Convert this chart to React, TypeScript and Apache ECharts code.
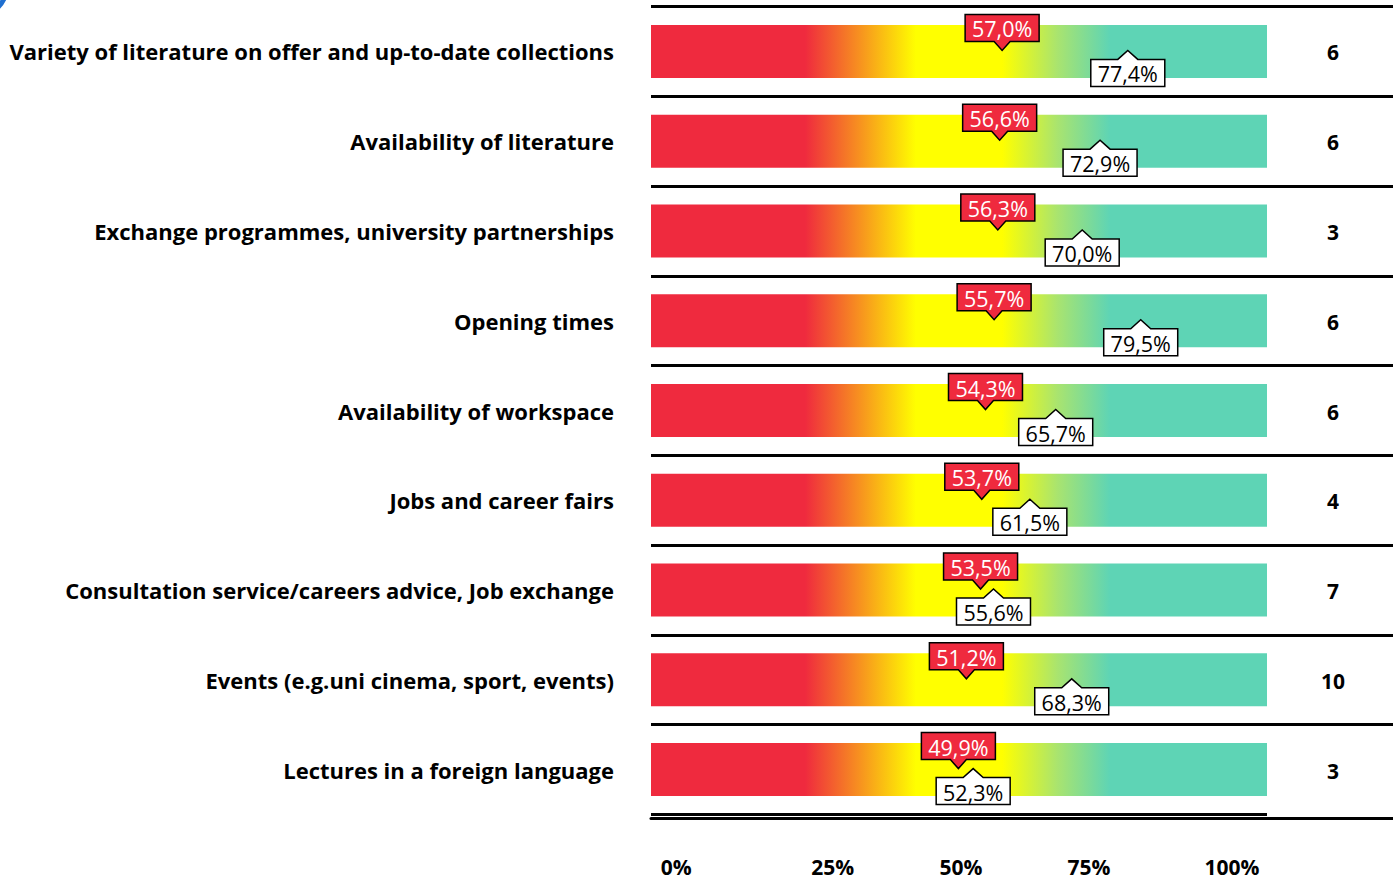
import React, { useEffect, useRef } from "react";
import * as echarts from "echarts";

const categories = [
  "Variety of literature on offer and up-to-date collections",
  "Availability of literature",
  "Exchange programmes, university partnerships",
  "Opening times",
  "Availability of workspace",
  "Jobs and career fairs",
  "Consultation service/careers advice, Job exchange",
  "Events (e.g.uni cinema, sport, events)",
  "Lectures in a foreign language",
];
const redValues = [57.0, 56.6, 56.3, 55.7, 54.3, 53.7, 53.5, 51.2, 49.9];
const whiteValues = [77.4, 72.9, 70.0, 79.5, 65.7, 61.5, 55.6, 68.3, 52.3];
const counts = [6, 6, 3, 6, 6, 4, 7, 10, 3];
const tickLabels = ["0%", "25%", "50%", "75%", "100%"];
const tickLabelPositions = [4.1, 29.5, 50.3, 71.1, 94.3];
const barFull = categories.map(() => 100);

const FONT = "'Open Sans', sans-serif";
const fmt = (v: number) => v.toFixed(1).replace(".", ",") + "%";

export default function App() {
  const ref = useRef<HTMLDivElement>(null);
  useEffect(() => {
    if (!ref.current) return;
    const chart = echarts.init(ref.current, null, { renderer: "svg" });
    const gradient = new echarts.graphic.LinearGradient(0, 0, 1, 0, [
      { offset: 0, color: "#EF2A3E" },
      { offset: 0.25, color: "#EF2A3E" },
      { offset: 0.34, color: "#F7931F" },
      { offset: 0.43, color: "#FFFF00" },
      { offset: 0.57, color: "#FFFF00" },
      { offset: 0.66, color: "#A9E46F" },
      { offset: 0.745, color: "#5ED4B5" },
      { offset: 1, color: "#5ED4B5" },
    ]);
    const callout = (isRed: boolean) => (params: any, api: any) => {
      const v = api.value(0);
      const c = api.value(1);
      const [x, yc] = api.coord([v, c]);
      const y = yc - 1;
      const w = 74, h = 27, gap = 9, pw = isRed ? 8 : 10;
      let pts: number[][];
      let top: number, bot: number;
      if (isRed) {
        bot = y - gap; top = bot - h;
        pts = [[x - w / 2, top], [x + w / 2, top], [x + w / 2, bot], [x + pw, bot], [x, y], [x - pw, bot], [x - w / 2, bot]];
      } else {
        top = y + gap; bot = top + h;
        pts = [[x - w / 2, top], [x - pw, top], [x, y], [x + pw, top], [x + w / 2, top], [x + w / 2, bot], [x - w / 2, bot]];
      }
      return {
        type: "group",
        children: [
          { type: "polygon", shape: { points: pts }, style: { fill: isRed ? "#EF2A3E" : "#FFFFFF", stroke: "#000", lineWidth: 1.5 } },
          {
            type: "text", x, y: (top + bot) / 2 + 1,
            style: { text: fmt(v), fill: isRed ? "#FFFFFF" : "#000", fontSize: 21.5, fontFamily: FONT, align: "center", verticalAlign: "middle" },
          },
        ],
      };
    };
    const splitColors = categories.map(() => "#000");
    chart.setOption({
      animation: false,
      graphic: [
        { type: "arc", shape: { cx: -25, cy: -15, r: 32, startAngle: 0, endAngle: Math.PI / 2 }, style: { stroke: "#1F6FD0", lineWidth: 5, fill: "none" } },
      ],
      grid: [
        { left: 651, width: 616, top: 6.5, height: 808 },
        { left: 1267, right: 0, top: 6.5, height: 808 },
      ],
      xAxis: [
        {
          gridIndex: 0, type: "value", min: 0, max: 100, offset: 4,
          axisLine: { show: true, onZero: false, lineStyle: { color: "#000", width: 3 } },
          axisTick: { show: false }, splitLine: { show: false },
          axisLabel: {
            customValues: tickLabelPositions,
            formatter: (v: number) => {
              const i = tickLabelPositions.findIndex((p) => Math.abs(p - v) < 1e-6);
              return i >= 0 ? tickLabels[i] : "";
            },
            margin: 38, fontSize: 21, fontWeight: "bold", fontFamily: FONT, color: "#000",
          },
        },
        {
          gridIndex: 1, type: "value", min: 0, max: 1, offset: 4,
          axisLine: { show: true, onZero: false, lineStyle: { color: "#000", width: 3 } },
          axisTick: { show: false }, splitLine: { show: false }, axisLabel: { show: false },
        },
      ],
      yAxis: [
        {
          gridIndex: 0, type: "category", data: categories, inverse: true,
          axisLine: { show: false }, axisTick: { show: false },
          splitLine: { show: true, lineStyle: { color: "#000", width: 3 } },
          axisLabel: { margin: 37, fontSize: 22, fontWeight: "bold", fontFamily: FONT, color: "#000" },
        },
        {
          gridIndex: 1, type: "category", data: categories, inverse: true,
          axisLine: { show: false }, axisTick: { show: false }, axisLabel: { show: false },
          splitLine: { show: true, lineStyle: { color: [...splitColors, "rgba(0,0,0,0)"], width: 3 } },
        },
      ],
      series: [
        {
          type: "bar", xAxisIndex: 0, yAxisIndex: 0, data: barFull, barWidth: 53,
          itemStyle: { color: gradient }, silent: true,
        },
        {
          type: "custom", xAxisIndex: 0, yAxisIndex: 0, z: 5,
          data: whiteValues.map((v, i) => [v, i]), renderItem: callout(false),
        },
        {
          type: "custom", xAxisIndex: 0, yAxisIndex: 0, z: 6,
          data: redValues.map((v, i) => [v, i]), renderItem: callout(true),
        },
        {
          type: "custom", xAxisIndex: 1, yAxisIndex: 1,
          data: counts.map((v, i) => [0.5, i, v]),
          renderItem: (params: any, api: any) => {
            const [x, y] = api.coord([api.value(0), api.value(1)]);
            return {
              type: "text", x: x + 3, y: y + 1,
              style: { text: String(api.value(2)), fill: "#000", fontSize: 21, fontWeight: "bold", fontFamily: FONT, align: "center", verticalAlign: "middle" },
            };
          },
        },
      ],
    });
    return () => chart.dispose();
  }, []);
  return <div ref={ref} style={{ position: "fixed", left: 0, top: 0, width: 1393, height: 880, background: "#fff" }} />;
}
